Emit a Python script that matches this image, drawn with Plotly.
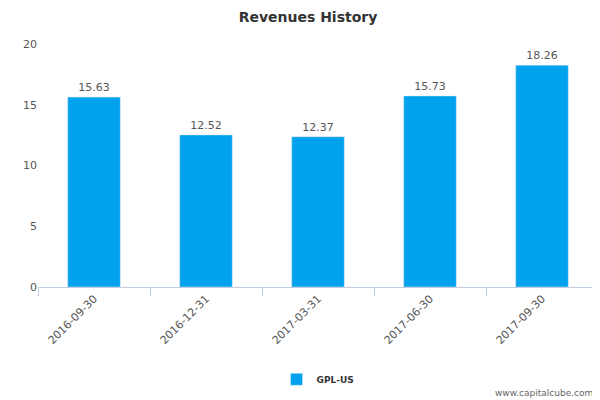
import plotly.graph_objects as go

categories = ["2016-09-30", "2016-12-31", "2017-03-31", "2017-06-30", "2017-09-30"]
values = [15.63, 12.52, 12.37, 15.73, 18.26]
labels = ["15.63", "12.52", "12.37", "15.73", "18.26"]

fig = go.Figure(go.Bar(
    x=categories, y=values, name="<b>GPL-US</b>", marker_color="#00a2ed",
    text=labels, textposition="outside", textfont=dict(size=11, color="#555"),
    width=0.47, cliponaxis=False,
))
fig.update_layout(
    width=600, height=400, margin=dict(l=30, r=10, t=36, b=121, autoexpand=False),
    paper_bgcolor="white", plot_bgcolor="white",
    font=dict(family="DejaVu Sans", size=11, color="#555"),
    title=dict(text="<b>Revenues History</b>", x=0.5, xanchor="center",
               y=0.978, yanchor="middle", yref="container",
               font=dict(size=14, color="#333")),
    showlegend=True,
    legend=dict(orientation="h", x=0.5, xanchor="center", y=-0.38, yanchor="middle",
                font=dict(size=9, color="#333")),
    xaxis=dict(type="category", tickangle=-45, showline=True, linecolor="#c0d0e0",
               ticks="outside", tickson="boundaries", tickcolor="#c0d0e0", ticklen=8,
               showgrid=False),
    yaxis=dict(range=[0, 20], dtick=5, showgrid=False, zeroline=False, showline=False),
    bargap=0.53,
)
fig.add_annotation(text="www.capitalcube.com", xref="paper", yref="paper", x=0.995, y=-0.435,
                   xanchor="right", yanchor="middle", showarrow=False,
                   font=dict(size=9, color="#666"))
fig.write_html("out.html")
